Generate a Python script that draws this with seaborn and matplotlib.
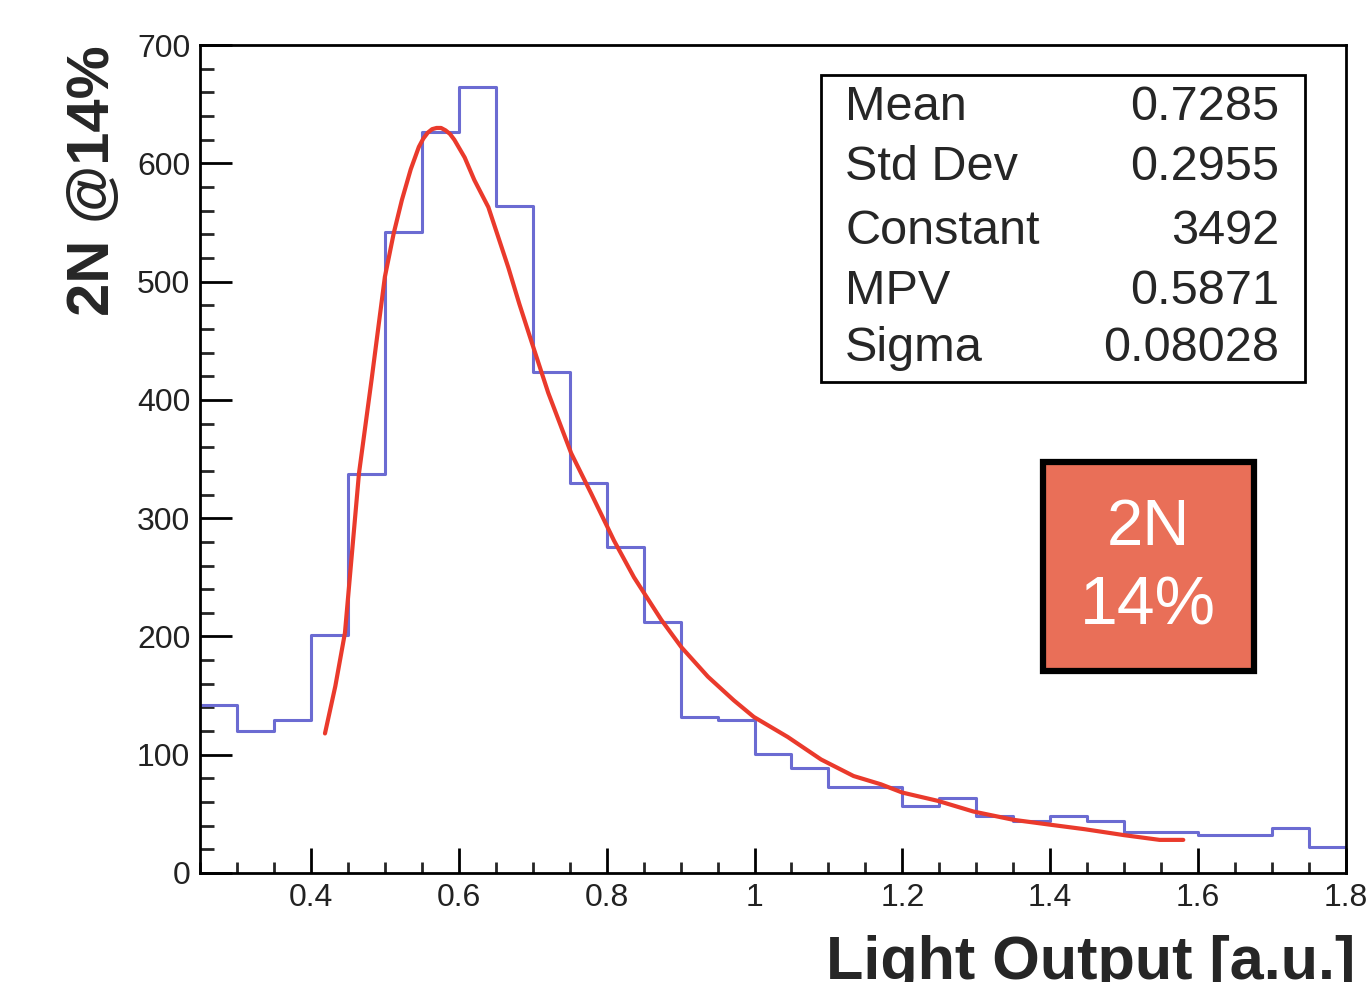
# ROOT-style light output histogram with Landau fit, redrawn with seaborn
import numpy as np
import pandas as pd
import seaborn as sns
import matplotlib.pyplot as plt
from matplotlib.patches import Rectangle
from matplotlib.ticker import MultipleLocator

# histogram bins (width 0.05 from 0.25 to 1.80) and counts
bin_edges = np.round(np.arange(0.25, 1.8001, 0.05), 2)
counts = [142, 120, 129, 201, 337, 542, 627, 665, 564, 424,
          330, 276, 212, 132, 129, 101, 89, 73, 73, 57,
          63, 48, 44, 48, 44, 35, 35, 32, 32, 38, 22]

# Landau fit curve
fit_x = [0.419, 0.433, 0.446, 0.465, 0.482, 0.500, 0.512, 0.523, 0.535, 0.546,
         0.552, 0.558, 0.564, 0.570, 0.576, 0.582, 0.588, 0.594, 0.608, 0.621,
         0.640, 0.658, 0.667, 0.682, 0.698, 0.721, 0.752, 0.779, 0.810, 0.837,
         0.874, 0.901, 0.937, 0.972, 0.999, 1.045, 1.090, 1.134, 1.171, 1.200,
         1.248, 1.296, 1.350, 1.398, 1.447, 1.500, 1.548, 1.580]
fit_y = [118, 158, 203, 338, 417, 504, 541, 569, 595, 614,
         621, 626, 629, 630, 630, 628, 625, 620, 605, 586,
         563, 529, 512, 481, 450, 406, 355, 321, 281, 250,
         214, 191, 166, 146, 132, 115, 96, 82, 75, 68,
         61, 52, 45, 41, 37, 32, 28, 28]

stat_names = ["Mean", "Std Dev", "Constant", "MPV", "Sigma"]
stat_values = ["0.7285", "0.2955", "3492", "0.5871", "0.08028"]

hist_df = pd.DataFrame({"x": (bin_edges[:-1] + bin_edges[1:]) / 2, "n": counts})

sns.set_style("white")
plt.rcParams['font.family'] = ['Liberation Sans', 'DejaVu Sans']

fig = plt.figure(figsize=(13.72, 9.82), dpi=100)
ax = fig.add_axes([0.1458, 0.111, 0.8352, 0.843])

sns.histplot(data=hist_df, x="x", weights="n", binwidth=0.05,
             binrange=(0.25, 1.8), element="step", fill=False,
             color="#6b6bd2", linewidth=2.2, ax=ax)
sns.lineplot(x=fit_x, y=fit_y, sort=False, estimator=None,
             color="#ea3a2c", linewidth=3.0, ax=ax)

ax.set_xlim(0.25, 1.8)
ax.set_ylim(0, 700)
ax.set_xlabel("")
ax.set_ylabel("")

ax.xaxis.set_minor_locator(MultipleLocator(0.05))
ax.yaxis.set_major_locator(MultipleLocator(100))
ax.yaxis.set_minor_locator(MultipleLocator(20))
ax.set_xticks([0.4, 0.6, 0.8, 1.0, 1.2, 1.4, 1.6, 1.8])
ax.set_xticklabels(["0.4", "0.6", "0.8", "1", "1.2", "1.4", "1.6", "1.8"])

ax.tick_params(which="both", bottom=True, left=True, top=False, right=False)
ax.tick_params(axis="x", which="major", direction="in", length=18, width=2,
               labelsize=23, pad=7, colors="black")
ax.tick_params(axis="x", which="minor", direction="in", length=8, width=2)
ax.tick_params(axis="y", which="major", direction="in", length=23, width=2,
               labelsize=23, pad=7, colors="black")
ax.tick_params(axis="y", which="minor", direction="in", length=10, width=2)
for tl in ax.get_xticklabels() + ax.get_yticklabels():
    tl.set_color("#222222")

for s in ax.spines.values():
    s.set_visible(True)
    s.set_color("black")
    s.set_linewidth(2)

# axis titles
fig.text(0.068, 0.954, "2N @14%", rotation=90, ha="center", va="top",
         fontsize=43, fontweight="bold")
fig.text(0.988, 0.003, "Light Output [a.u.]", ha="right", va="baseline",
         fontsize=44, fontweight="bold")

# stats box
fig.patches.append(Rectangle((0.5984, 0.611), 0.3528, 0.3126,
                             transform=fig.transFigure, facecolor="white",
                             edgecolor="black", linewidth=2, zorder=5))
row_y = [108, 168, 231, 292, 348]
for name, val, yp in zip(stat_names, stat_values, row_y):
    fy = 1 - yp / 982
    fig.text(0.6159, fy, name, ha="left", va="center", fontsize=35, zorder=6)
    fig.text(0.9322, fy, val, ha="right", va="center", fontsize=35, zorder=6)

# highlighted label box
fig.patches.append(Rectangle((0.7602, 0.3167), 0.1538, 0.2128,
                             transform=fig.transFigure, facecolor="#e96f58",
                             edgecolor="black", linewidth=4.5, zorder=5))
fig.text(0.8367, 0.4623, "2N", ha="center", va="center", fontsize=47,
         color="white", zorder=6)
fig.text(0.8367, 0.3819, "14%", ha="center", va="center", fontsize=49,
         color="white", zorder=6)

fig.savefig("out.png", dpi=100)
